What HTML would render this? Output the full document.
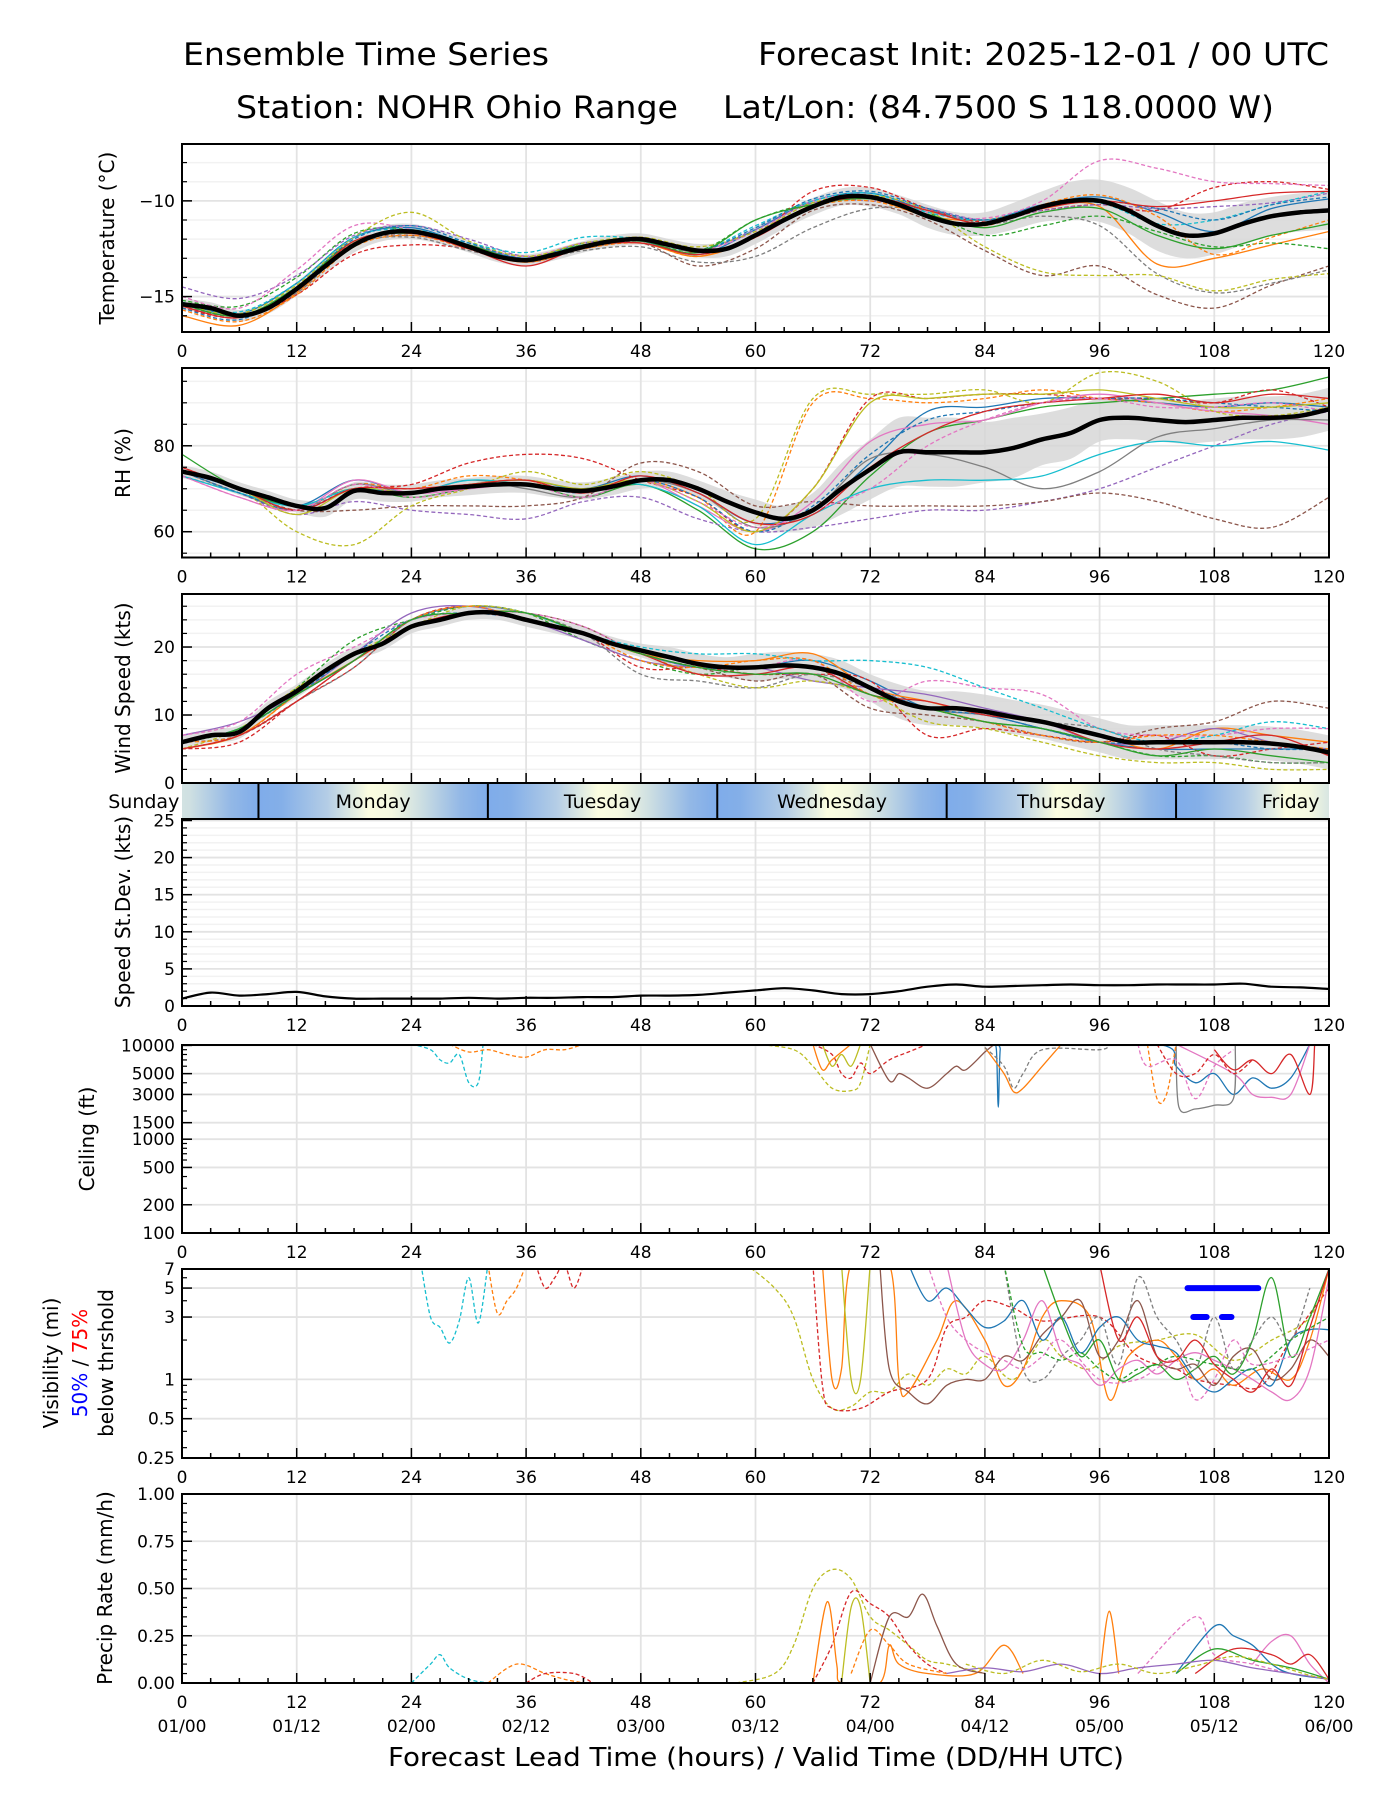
<!DOCTYPE html>
<html><head><meta charset="utf-8"><title>Ensemble Time Series</title>
<style>html,body{margin:0;padding:0;background:#fff}svg{display:block;font-family:"DejaVu Sans","Liberation Sans",sans-serif}</style>
</head><body>
<svg id="chart" width="1400" height="1800" viewBox="0 0 1400 1800" xmlns="http://www.w3.org/2000/svg">
<defs>
<linearGradient id="dayFull" x1="0" y1="0" x2="1" y2="0">
<stop offset="0" stop-color="#7facea"/><stop offset="0.1" stop-color="#84afe8"/><stop offset="0.3" stop-color="#b4cde6"/><stop offset="0.48" stop-color="#fbfde0"/><stop offset="0.58" stop-color="#f4f8e0"/><stop offset="0.7" stop-color="#cfe0e2"/><stop offset="0.88" stop-color="#93b8e6"/><stop offset="1" stop-color="#7facea"/>
</linearGradient>
<linearGradient id="dayTail" x1="0" y1="0" x2="1" y2="0">
<stop offset="0" stop-color="#d2e2e2"/><stop offset="0.1" stop-color="#cfe0e2"/><stop offset="0.64" stop-color="#93b8e6"/><stop offset="1" stop-color="#7facea"/>
</linearGradient>
<linearGradient id="dayHead" x1="0" y1="0" x2="1" y2="0">
<stop offset="0" stop-color="#7facea"/><stop offset="0.15" stop-color="#84afe8"/><stop offset="0.45" stop-color="#b4cde6"/><stop offset="0.72" stop-color="#fbfde0"/><stop offset="0.87" stop-color="#f4f8e0"/><stop offset="1" stop-color="#d8e6e2"/>
</linearGradient>
</defs>
<text x="183" y="65" font-size="31" textLength="366" lengthAdjust="spacingAndGlyphs">Ensemble Time Series</text>
<text x="758" y="65" font-size="31" textLength="571" lengthAdjust="spacingAndGlyphs">Forecast Init: 2025-12-01 / 00 UTC</text>
<text x="236" y="118" font-size="31" textLength="442" lengthAdjust="spacingAndGlyphs">Station: NOHR Ohio Range</text>
<text x="723" y="118" font-size="31" textLength="551" lengthAdjust="spacingAndGlyphs">Lat/Lon: (84.7500 S 118.0000 W)</text>
<text x="756" y="1766" font-size="26" text-anchor="middle" textLength="736" lengthAdjust="spacingAndGlyphs">Forecast Lead Time (hours) / Valid Time (DD/HH UTC)</text>
<g id="layer"></g>
</svg>
<script>
// ---------- DATA ----------
const hours3 = [0,3,6,9,12,15,18,21,24,27,30,33,36,39,42,45,48,51,54,57,60,63,66,69,72,75,78,81,84,87,90,93,96,99,102,105,108,111,114,117,120];
const hours6 = [0,6,12,18,24,30,36,42,48,54,60,66,72,78,84,90,96,102,108,114,120];
const xTickHours = [0,12,24,36,48,60,72,84,96,108,120];
const dateLabels = ["01/00","01/12","02/00","02/12","03/00","03/12","04/00","04/12","05/00","05/12","06/00"];
const dayNames = ["Sunday","Monday","Tuesday","Wednesday","Thursday","Friday"];
const dayNoonHours = [-4,20,44,68,92,116];
const dayBoundaryHours = [8,32,56,80,104];

const tempMean = [-15.4,-15.6,-16.0,-15.6,-14.6,-13.4,-12.3,-11.7,-11.6,-11.9,-12.4,-12.9,-13.1,-12.8,-12.4,-12.1,-12.0,-12.3,-12.6,-12.5,-11.8,-11.0,-10.3,-9.8,-9.8,-10.2,-10.8,-11.2,-11.2,-10.8,-10.3,-10.0,-10.0,-10.5,-11.3,-11.8,-11.7,-11.2,-10.8,-10.6,-10.5];
const tempSpread = [0.3,0.3,0.3,0.3,0.35,0.4,0.4,0.4,0.4,0.35,0.3,0.3,0.3,0.3,0.3,0.3,0.3,0.3,0.35,0.4,0.45,0.45,0.45,0.45,0.5,0.5,0.6,0.6,0.6,0.7,0.8,1.0,1.1,1.2,1.3,1.2,1.1,1.1,1.0,1.0,1.0];
const tempM1 = [-15.3,-15.9,-14.3,-11.9,-11.4,-12.3,-13.0,-12.2,-12.1,-12.8,-11.5,-10.0,-9.6,-10.5,-11.0,-10.2,-9.8,-10.6,-11.6,-10.4,-9.9];
const tempM2 = [-16.0,-16.5,-14.8,-12.2,-11.6,-12.5,-13.2,-12.4,-12.2,-12.9,-11.9,-10.2,-9.9,-10.8,-11.0,-10.4,-10.3,-13.3,-13.0,-12.3,-11.6];
const tempM3 = [-15.2,-15.5,-14.0,-11.7,-11.5,-12.3,-12.9,-12.3,-12.1,-12.6,-11.0,-10.1,-9.8,-10.6,-11.8,-11.3,-10.8,-11.6,-12.4,-12.2,-12.5];
const tempM4 = [-15.6,-16.1,-14.9,-12.8,-12.3,-12.5,-13.1,-12.4,-11.9,-12.7,-11.9,-9.5,-9.3,-10.4,-11.1,-10.5,-10.2,-10.5,-9.3,-9.0,-9.4];
const tempM5 = [-14.5,-15.1,-13.9,-11.8,-11.3,-12.0,-12.9,-12.5,-12.0,-12.6,-11.5,-10.1,-10.0,-10.4,-11.0,-10.5,-10.2,-10.4,-10.3,-10.1,-9.6];
const tempM6 = [-15.5,-16.0,-14.6,-12.2,-11.8,-12.4,-13.2,-12.5,-12.2,-13.4,-12.5,-10.5,-10.2,-11.0,-12.6,-13.9,-13.4,-14.9,-15.6,-14.4,-13.4];
const tempM7 = [-15.0,-15.6,-13.6,-11.3,-11.5,-12.3,-12.9,-12.2,-12.1,-12.6,-11.6,-10.0,-9.7,-10.6,-10.9,-10.0,-7.9,-8.3,-9.0,-9.1,-9.2];
const tempM8 = [-15.5,-16.0,-14.8,-12.3,-11.9,-12.6,-13.1,-12.6,-12.4,-13.2,-12.9,-11.4,-10.4,-10.5,-11.2,-10.8,-11.3,-13.8,-14.8,-14.3,-13.6];
const tempM9 = [-15.4,-15.9,-14.4,-11.9,-10.6,-12.1,-12.9,-12.2,-11.9,-12.4,-11.6,-10.1,-9.7,-10.5,-12.4,-13.7,-13.9,-13.9,-14.7,-14.1,-13.8];
const tempM10 = [-15.3,-15.8,-14.3,-11.9,-11.5,-12.2,-12.7,-11.9,-12.0,-12.6,-11.3,-10.0,-9.6,-10.6,-11.0,-10.3,-10.1,-11.2,-11.0,-10.2,-9.5];
const tempM11 = [-15.6,-16.2,-14.5,-12.0,-11.3,-12.2,-13.0,-12.3,-12.0,-12.6,-11.4,-9.9,-9.5,-10.4,-11.0,-10.3,-10.0,-10.4,-11.0,-10.2,-9.8];
const tempM12 = [-15.7,-16.3,-14.9,-12.4,-11.8,-12.5,-13.2,-12.5,-12.2,-12.9,-11.8,-10.3,-10.0,-10.8,-11.3,-10.2,-9.7,-10.8,-12.8,-11.9,-11.0];
const tempM13 = [-15.4,-16.0,-14.5,-12.1,-11.7,-12.3,-13.1,-12.3,-12.1,-12.7,-11.0,-10.2,-9.9,-10.7,-11.4,-10.6,-10.4,-11.8,-12.5,-11.8,-11.2];
const tempM14 = [-15.5,-16.1,-14.7,-12.1,-11.7,-12.5,-13.4,-12.4,-12.2,-12.8,-11.9,-10.3,-9.8,-10.5,-11.2,-10.4,-10.0,-10.3,-10.0,-9.6,-9.5];

const rhMean = [74,72.5,70,68,66,65.5,69.5,69,69,70,70.5,71,71,70,69.5,70.5,72,72,70,67,64.5,63,65,70,74.5,78.5,78.5,78.5,78.5,79.5,81.5,83,86,86.5,86,85.5,86,86.5,86.5,87,88.5];
const rhSpread = [1.5,1.5,1.5,1.5,1.5,2,2,2,2,2,2,2,2,2,2,2,2,2,2,2.5,3,3,4,6,7,8,8,8,7,7,6,6,5,5,5,5,5,5,5,5,5];
const rhM1 = [74,70,66,72,69,71,72,70,73,69,62,65,76,88,89,91,91,90,89,90,89];
const rhM2 = [74,69,65,71,70,73,72,69,72,68,60,90,91,90,91,93,91,90,88,89,91];
const rhM3 = [78,70,66,70,68,70,71,68,71,65,56,60,73,83,86,89,90,91,92,93,96];
const rhM4 = [75,70,65,70,71,76,78,77,72,68,60,70,91,91,92,92,91,91,90,93,89];
const rhM5 = [74,69,64,67,65,64,63,67,68,63,60,61,63,65,65,67,70,75,80,85,88];
const rhM6 = [73,69,65,65,66,66,66,68,76,74,66,67,66,66,66,67,69,67,63,61,68];
const rhM7 = [73,68,65,72,69,70,71,69,72,66,60,67,81,85,86,90,92,90,88,87,85];
const rhM8 = [74,69,65,71,69,72,70,68,72,69,61,65,77,78,75,70,74,82,84,86,86];
const rhM9 = [74,70,60,57,66,70,74,71,74,70,63,91,92,92,93,90,97,95,88,87,89];
const rhM10 = [73,69,66,70,69,72,71,70,71,66,57,64,70,72,72,73,78,81,80,81,79];
const rhM11 = [74,69,65,70,69,71,71,69,72,68,60,66,78,86,88,90,91,91,90,89,88];
const rhM12 = [74,70,64,70,69,71,72,70,72,67,60,70,90,91,92,92,93,91,89,89,90];
const rhM13 = [75,70,65,70,70,71,72,69,73,69,62,64,75,83,88,90,91,92,90,92,91];
const rhM14 = [73,68,65,71,68,70,71,68,72,67,61,65,70,80,86,90,91,89,89,90,88];

const windMean = [6,7,7.5,11,13.5,16.5,19,20.5,23,24,25,25,24,23,22,20.5,19.5,18.5,17.5,17,17,17.3,17,16,14,12,11,11,10.5,9.7,9,8,7,6,6,6,6,6,5.8,5.3,4.5];
const windSpread = [1,1,1,1,1,1,1,1,1,1,1,1,1,1,1,1,1,1.5,1.5,1.5,2,2,2,2,2,2.5,2.5,2.5,2.5,2.5,2.5,2.5,2.5,2.5,2.5,2.5,2.5,2.5,2.5,2.5,2.5];
const windM1 = [6,8,13,18,24,26,25,22,19,17,17,18,15,11,10,8,6,5,5,5,5];
const windM2 = [5,7,13,18,23,25,25,22,19,18,18,19,14,12,10,9,7,5,8,7,6];
const windM3 = [6,8,14,21,24,26,25,21,18,16,17,17,13,11,9,8,6,4,4,3,3];
const windM4 = [5,6,12,17,24,26,24,22,17,17,16,16,15,7,8,7,6,7,4,5,6];
const windM5 = [7,9,13,19,25,26,24,21,18,17,17,15,14,13,11,9,6,6,8,6,5];
const windM6 = [6,7,12,18,23,25,25,23,19,17,15,16,11,10,9,7,6,8,9,12,11];
const windM7 = [7,9,16,20,24,25,25,23,19,17,17,18,12,15,14,13,8,7,7,8,8];
const windM8 = [5,7,12,17,24,26,25,22,16,15,14,16,14,11,10,9,8,5,4,3,3];
const windM9 = [5,8,14,19,23,26,25,22,19,16,14,15,13,9,8,6,4,3,3,2,2];
const windM10 = [6,8,13,18,24,25,25,22,20,19,19,18,18,17,14,11,8,6,7,9,8];
const windM11 = [6,8,13,19,24,25,24,22,19,17,17,17,14,11,10,8,6,6,6,5,5];
const windM12 = [6,7,13,18,24,26,24,22,18,17,18,18,13,11,9,7,6,7,7,6,5];
const windM13 = [5,7,12,18,23,25,24,22,19,16,16,17,13,12,10,9,6,5,6,7,4];
const windM14 = [6,8,13,18,24,25,25,22,19,17,16,16,13,11,9,8,6,4,5,4,3];

const stdDev = [1.0,1.8,1.4,1.6,1.9,1.3,1.0,1.0,1.0,1.0,1.1,1.0,1.1,1.1,1.2,1.2,1.4,1.4,1.5,1.8,2.1,2.4,2.1,1.6,1.6,2.0,2.6,2.9,2.6,2.7,2.8,2.9,2.8,2.8,2.9,2.9,2.9,3.0,2.6,2.5,2.3];

// ceiling members: hour / value pairs (ft)
const ceilH1 = [24,26,27,28,29,30,31,31.5]; const ceilV1 = [10500,9000,7000,6500,8000,4000,4000,10500];
const ceilH2 = [28,30,32,34,36,38,40,42]; const ceilV2 = [10500,8500,9000,8000,7500,9000,9000,10500];
const ceilH3 = [60,64,66,68,70,71,72]; const ceilV3 = [10500,9000,6000,3500,3300,4000,10500];
const ceilH4 = [66,68,69,70,71,72,74,76,78]; const ceilV4 = [10500,8000,5000,4500,6500,5000,7000,8500,10500];
const ceilH5 = [67,68,69,70,71]; const ceilV5 = [10500,6000,8000,6000,10500];
const ceilH6 = [66,67,68,70]; const ceilV6 = [10500,5500,7000,10500];
const ceilH7 = [72,74,75,76,78,80,81,82,84,85]; const ceilV7 = [10500,4200,5000,4500,3500,5000,6000,5500,8500,10500];
const ceilH8 = [84.8,85.2,85.4,85.6,86,102,104,106,108,110,112,114,116,118]; const ceilV8 = [10500,9000,2200,9000,10500,10500,6000,4000,5000,3000,4500,3500,4500,10500];
const ceilH9 = [84,86,87,88,90,92]; const ceilV9 = [9500,5000,3200,3500,6000,10500];
const ceilH10 = [84,86,87,88,90,96,97]; const ceilV10 = [9500,6000,3500,5000,9000,9000,10500];
const ceilH11 = [104,110,112,114,116,118]; const ceilV11 = [10500,5000,3000,2800,3000,10500];
const ceilH12 = [104,104.3,106,108,110,110.2]; const ceilV12 = [10500,2200,2100,2300,2700,10500];
const ceilH13 = [101,102,103,104]; const ceilV13 = [10500,2700,3000,10500];
const ceilH14 = [108,110,112,114,116,118,118.5]; const ceilV14 = [9000,5500,7000,5000,8000,3000,10500];
const ceilH15 = [100,101,104,106,108,110]; const ceilV15 = [10500,6000,7000,2700,6000,9000];
const ceilH16 = [102,104,106,108,110,112]; const ceilV16 = [10500,5000,5000,8000,5000,7000];

// visibility members: hour / value pairs (mi)
const visH1 = [25,26,27,28,29,30,31,32]; const visV1 = [8,3,2.5,1.9,2.8,6,2.7,8];
const visH2 = [32,33,34,35,36]; const visV2 = [8,3.2,4,5,8];
const visH3 = [37,38,39,40,41,42]; const visV3 = [8,5,6,8,5,8];
const visH4 = [59,62,64,66,68,70,72,74,76,78,80,82,84,87,90,92,95,98,102,106,110,114,118,120]; const visV4 = [8,5,3,1,0.6,0.62,0.8,0.8,1.1,0.9,1.2,1.1,1.5,1.0,2,1.5,1.2,1.8,2,2.2,1.4,2,3,7];
const visH5 = [66,67,68,71,74,78,80,82,84,87,90,96,100,104,106,110,113,116,120]; const visV5 = [8,0.9,0.6,0.6,0.8,1,2.5,3,4,3.5,2.8,3,1.5,1.2,1,0.9,0.9,2,5];
const visH6 = [67,68,69,70,74,75,76,79,81,84,86,88,90,92,95,97,99,102,104,106,108,110,113,116,118,120]; const visV6 = [8,1,1.2,8,8,1,0.8,2,4,2,0.9,1.2,3,4,3,0.7,1.5,2,1.5,1,1.2,0.9,1.2,1,2,7];
const visH7 = [69,70,71,72]; const visV7 = [8,1,1,8];
const visH8 = [73,74,76,78,80,82,84,86,88,90,92,94,96,98,100,102,104,106,108,110,112,114,116,118,120]; const visV8 = [8,1.2,0.8,0.65,0.9,1,1,1.5,1.4,2.2,3,4,1.5,2,4,1.5,1.2,1.3,0.9,1.5,1.7,1.0,1.2,2,1.5];
const visH9 = [76,78,80,82,84,86,88,90,92,94,96,98,100,102,104,106,108,110,112,114,116,118,120]; const visV9 = [8,4,5,3.5,2.5,2.8,4,2,3,1.6,2.5,3,2,1.8,1.6,1.0,0.8,1,1.2,0.9,2,2.4,2.4];
const visH10 = [80,82,84,86,88,90,92,94,96,98,100,102,104,106,108,110,112,114,116,118,120]; const visV10 = [8,2,1.3,1.2,2,4,1.6,1.3,0.9,1.2,1.4,1.1,1.4,1.6,1.4,1.2,1,0.8,0.7,1.2,6];
const visH11 = [90,92,94,96,98,100,102,104,106,108,110,112,114,116,118,120]; const visV11 = [8,3,1.5,2,1,1.1,1.3,1.0,1.2,1.5,1.1,2,6,1.5,3,7];
const visH12 = [86,88,90,92,94,96,98,100,102,104,106,108,110,112,114,116,118]; const visV12 = [8,1.2,1,1.5,2,3,1.3,6,3,2,1.2,3,1.2,2,3,2,5];
const visH13 = [78,80,82,84,86,88,90,92,96,100,104,106,108,110,112,116,120]; const visV13 = [8,3,2,1.6,1.4,1.2,1.5,2,1,1,1.4,0.7,1,2,1.3,1.5,2];
const visH14 = [86,88,90,92,94,96,98,100,102,104,108,112,116,120]; const visV14 = [8,1.8,1.6,1.4,1.6,1.2,1,1.2,1.3,1.5,1.3,1.2,2,3];
const visH15 = [96,98,100,102,104,106,108,110,112,114,116,118,120]; const visV15 = [8,2,3,1.5,1.4,2,1.3,1,0.8,1.2,0.9,2.5,7];
const vis50Start = [105.2]; const vis50End = [112.6]; const vis50Value = [5];
const vis75Start = [105.8,108.8]; const vis75End = [107.2,109.8]; const vis75Value = [3,3];

// precip members: hour / value pairs (mm/h)
const prH1 = [58,62,64,66,68,70,72,74,76,78,80,84]; const prV1 = [0,0.05,0.2,0.5,0.6,0.55,0.35,0.28,0.2,0.12,0.1,0.05];
const prH2 = [66,68,70,72,74,76,78,80]; const prV2 = [0,0.2,0.48,0.42,0.35,0.2,0.1,0.05];
const prH3 = [66,67.5,68.5,69,73,74,75,78,83,86,88]; const prV3 = [0,0.43,0.1,0,0,0.2,0.1,0.05,0.05,0.2,0.05];
const prH4 = [69,70,71,72]; const prV4 = [0,0.4,0.4,0];
const prH5 = [72,74,76,77.5,79,81,84]; const prV5 = [0,0.35,0.35,0.47,0.3,0.1,0.05];
const prH6 = [70,72,74,76,80]; const prV6 = [0.05,0.28,0.2,0.1,0.05];
const prH7 = [100,106,108,112,116,120]; const prV7 = [0.05,0.35,0.15,0.1,0.05,0.02];
const prH8 = [104,108,110,112,114,116,120]; const prV8 = [0.05,0.3,0.25,0.2,0.1,0.05,0.02];
const prH9 = [96,97,98]; const prV9 = [0.02,0.38,0.05];
const prH10 = [112,114,116,118,120]; const prV10 = [0.1,0.22,0.25,0.1,0];
const prH11 = [106,110,114,116,118,120]; const prV11 = [0.05,0.18,0.15,0.1,0.15,0.02];
const prH12 = [104,108,112,116,120]; const prV12 = [0.05,0.18,0.12,0.08,0.02];
const prH13 = [24,26,27,28,30,32]; const prV13 = [0,0.1,0.15,0.08,0.02,0];
const prH14 = [32,35,38,40,42]; const prV14 = [0,0.1,0.05,0.02,0];
const prH15 = [36,38,41,43]; const prV15 = [0,0.05,0.05,0];
const prH16 = [80,84,88,92,96,100,104,108,112,116,120]; const prV16 = [0.05,0.08,0.06,0.1,0.05,0.08,0.1,0.12,0.08,0.05,0.02];
const prH17 = [82,86,90,94,98,102,106,110,114,118,120]; const prV17 = [0.1,0.05,0.12,0.06,0.1,0.05,0.09,0.14,0.1,0.04,0.02];

// ---------- DRAWING ----------
const NS = "http://www.w3.org/2000/svg";
const layer = document.getElementById("layer");
const X0 = 182, X1 = 1329;
const tab = ["#1f77b4","#ff7f0e","#2ca02c","#d62728","#9467bd","#8c564b","#e377c2","#7f7f7f","#bcbd22","#17becf"];
function xs(h){ return X0 + h*(X1-X0)/120; }
function mk(tag, attrs, parent){ const e=document.createElementNS(NS,tag); for(const k in attrs) e.setAttribute(k,attrs[k]); (parent||layer).appendChild(e); return e; }
function smoothPath(pts){
  if(pts.length<2) return "";
  let d="M"+pts[0][0].toFixed(1)+","+pts[0][1].toFixed(1);
  for(let i=0;i<pts.length-1;i++){
    const p0=pts[Math.max(0,i-1)],p1=pts[i],p2=pts[i+1],p3=pts[Math.min(pts.length-1,i+2)];
    const c1x=p1[0]+(p2[0]-p0[0])/6,c1y=p1[1]+(p2[1]-p0[1])/6,c2x=p2[0]-(p3[0]-p1[0])/6,c2y=p2[1]-(p3[1]-p1[1])/6;
    d+="C"+c1x.toFixed(1)+","+c1y.toFixed(1)+" "+c2x.toFixed(1)+","+c2y.toFixed(1)+" "+p2[0].toFixed(1)+","+p2[1].toFixed(1);
  }
  return d;
}
function linY(p){ return v => p.bot - (v-p.min)/(p.max-p.min)*(p.bot-p.top); }
function logY(p){ return v => p.bot - (Math.log10(v)-Math.log10(p.min))/(Math.log10(p.max)-Math.log10(p.min))*(p.bot-p.top); }

const panels = {
  temp:{top:144,bot:332,min:-16.85,max:-7.03,ticks:[-15,-10],labels:["\u221215","\u221210"],minor:[-16,-14,-13,-12,-11,-9,-8],minorGrid:true,log:false},
  rh:{top:368,bot:557.5,min:54,max:98.1,ticks:[60,80],labels:["60","80"],minor:[55,65,70,75,85,90,95],minorGrid:true,log:false},
  wind:{top:594,bot:783,min:0,max:27.8,ticks:[0,10,20],labels:["0","10","20"],minor:[2,4,6,8,12,14,16,18,22,24,26],minorGrid:true,log:false},
  std:{top:819,bot:1006,min:0,max:25.2,ticks:[0,5,10,15,20,25],labels:["0","5","10","15","20","25"],minor:[1,2,3,4,6,7,8,9,11,12,13,14,16,17,18,19,21,22,23,24],minorGrid:true,log:false},
  ceil:{top:1045,bot:1233,min:100,max:10100,ticks:[100,200,500,1000,1500,3000,5000,10000],labels:["100","200","500","1000","1500","3000","5000","10000"],minor:[300,400,600,700,800,900,2000,4000,6000,7000,8000,9000],minorGrid:false,log:true},
  vis:{top:1269,bot:1458,min:0.25,max:7,ticks:[0.25,0.5,1,3,5,7],labels:["0.25","0.5","1","3","5","7"],minor:[0.3,0.4,0.6,0.7,0.8,0.9,2,4,6],minorGrid:false,log:true},
  pr:{top:1494,bot:1683,min:0,max:1,ticks:[0,0.25,0.5,0.75,1],labels:["0.00","0.25","0.50","0.75","1.00"],minor:[0.05,0.1,0.15,0.2,0.3,0.35,0.4,0.45,0.55,0.6,0.65,0.7,0.8,0.85,0.9,0.95],minorGrid:false,log:false}
};
for(const k in panels){ const p=panels[k]; p.y = p.log?logY(p):linY(p); }

function drawFrame(key, name){
  const p=panels[key];
  const g=mk("g",{});
  
  
  const cp=mk("clipPath",{id:"clip-"+key},g);
  mk("rect",{x:X0,y:p.top,width:X1-X0,height:p.bot-p.top},cp);
  if(p.minorGrid){ p.minor.forEach(v=>{ const yy=p.y(v); const l=mk("line",{x1:X0,x2:X1,y1:yy,y2:yy,stroke:"#f2f2f2","stroke-width":1.5},g);
    
     }); }
  xTickHours.forEach(h=>{ const l=mk("line",{x1:xs(h),x2:xs(h),y1:p.top,y2:p.bot,stroke:"#e3e3e3","stroke-width":1.8},g);
    
     });
  p.ticks.forEach(v=>{ const yy=p.y(v); const l=mk("line",{x1:X0,x2:X1,y1:yy,y2:yy,stroke:"#e3e3e3","stroke-width":1.8},g);
    
     });
  const plot=mk("g",{"clip-path":"url(#clip-"+key+")"},g);
  
  
  p.plot=plot; p.g=g;
  return p;
}
function drawAxes(key, name, showNums){
  const p=panels[key], g=p.g;
  for(let h=0;h<=120;h+=3){ const major=h%12===0; const l=mk("line",{x1:xs(h),x2:xs(h),y1:p.bot,y2:p.bot-(major?10:5),stroke:"#000","stroke-width":1.5},g);
    
     }
  p.ticks.forEach((v,i)=>{ const yy=p.y(v);
    const l=mk("line",{x1:X0,x2:X0+10,y1:yy,y2:yy,stroke:"#000","stroke-width":1.5},g);
    
    
    const t=mk("text",{x:X0-7,y:yy+6,"font-size":17,"text-anchor":"end"},g); t.textContent=p.labels[i];
    
     });
  p.minor.forEach(v=>{ const yy=p.y(v); const l=mk("line",{x1:X0,x2:X0+5,y1:yy,y2:yy,stroke:"#000","stroke-width":1.2},g);
    
     });
  const r=mk("rect",{x:X0,y:p.top,width:X1-X0,height:p.bot-p.top,fill:"none",stroke:"#000","stroke-width":2},g);
  
  
  if(showNums){ xTickHours.forEach(h=>{ const t=mk("text",{x:xs(h),y:p.bot+25,"font-size":17,"text-anchor":"middle"},g); t.textContent=String(h);
    
     }); }
}
function yLabel(x, yc, text, name, color){
  const t=mk("text",{x:x,y:yc,"font-size":20,"text-anchor":"middle","dominant-baseline":"central",transform:"rotate(-90 "+x+" "+yc+")",fill:color||"#000"});
  t.textContent=text;
  
  
  return t;
}
function line(p, hs, vs, color, dashed, width, name, clipTop){
  const pts=hs.map((h,i)=>[xs(h), p.y(clipTop!==undefined?Math.min(vs[i],clipTop):vs[i])]);
  const a={d:smoothPath(pts),fill:"none",stroke:color,"stroke-width":width||1.3,"stroke-linejoin":"round"};
  if(dashed) a["stroke-dasharray"]="4,2.5";
  const e=mk("path",a,p.plot);
  
  
  return e;
}
function band(p, mean, spread, name){
  const up=hours3.map((h,i)=>[xs(h),p.y(mean[i]+spread[i])]);
  const dn=hours3.map((h,i)=>[xs(h),p.y(mean[i]-spread[i])]).reverse();
  let d=smoothPath(up)+"L"+smoothPath(dn).slice(1)+"Z";
  const e=mk("path",{d:d,fill:"#d4d4d4","fill-opacity":0.8,stroke:"none"},p.plot);
  
  
}
const extraColors = [0,1,2,3];
const extraDash = [true,true,false,false];

// Temperature
let P=drawFrame("temp","temperature");
band(P,tempMean,tempSpread,"temperature-spread-band");
[tempM1,tempM2,tempM3,tempM4,tempM5,tempM6,tempM7,tempM8,tempM9,tempM10].forEach((m,i)=>line(P,hours6,m,tab[i],i>=2,1.3,"temperature-member-"+(i+1)));
[tempM11,tempM12,tempM13,tempM14].forEach((m,i)=>line(P,hours6,m,tab[extraColors[i]],extraDash[i],1.3,"temperature-member-"+(i+11)));
line(P,hours3,tempMean,"#000",false,4.5,"temperature-ensemble-mean");
drawAxes("temp","temperature",true);
yLabel(107,238,"Temperature (\u00b0C)","temperature-y-axis-title");

// RH
P=drawFrame("rh","rh");
band(P,rhMean,rhSpread,"rh-spread-band");
[rhM1,rhM2,rhM3,rhM4,rhM5,rhM6,rhM7,rhM8,rhM9,rhM10].forEach((m,i)=>line(P,hours6,m,tab[i],[1,3,4,5,8].includes(i),1.3,"rh-member-"+(i+1)));
[rhM11,rhM12,rhM13,rhM14].forEach((m,i)=>line(P,hours6,m,tab[[0,8,3,6][i]],[true,false,false,true][i],1.3,"rh-member-"+(i+11)));
line(P,hours3,rhMean,"#000",false,4.5,"rh-ensemble-mean");
drawAxes("rh","rh",true);
yLabel(123,463,"RH (%)","rh-y-axis-title");

// Wind
P=drawFrame("wind","wind-speed");
band(P,windMean,windSpread,"wind-spread-band");
[windM1,windM2,windM3,windM4,windM5,windM6,windM7,windM8,windM9,windM10].forEach((m,i)=>line(P,hours6,m,tab[i],[2,3,5,6,7,8,9].includes(i),1.3,"wind-member-"+(i+1)));
[windM11,windM12,windM13,windM14].forEach((m,i)=>line(P,hours6,m,tab[[0,1,3,2][i]],[true,true,false,false][i],1.3,"wind-member-"+(i+11)));
line(P,hours3,windMean,"#000",false,4.5,"wind-ensemble-mean");
drawAxes("wind","wind-speed",false);
yLabel(123,688,"Wind Speed (kts)","wind-y-axis-title");

// Day bar
{
  const g=mk("g",{});
  
  
  const edges=[0].concat(dayBoundaryHours,[120]);
  for(let i=0;i<edges.length-1;i++){
    const fill = i===0 ? "url(#dayTail)" : (i===edges.length-2 ? "url(#dayHead)" : "url(#dayFull)");
    const r=mk("rect",{x:xs(edges[i]),y:784,width:xs(edges[i+1])-xs(edges[i]),height:34,fill:fill},g);
    
    
  }
  dayBoundaryHours.forEach(h=>{ const l=mk("line",{x1:xs(h),x2:xs(h),y1:784,y2:818,stroke:"#000","stroke-width":2},g);
    
     });
  dayNames.forEach((n,i)=>{ const t=mk("text",{x:xs(dayNoonHours[i]),y:808,"font-size":19,"text-anchor":"middle"},g); t.textContent=n;
    
     });
}

// Std dev
P=drawFrame("std","speed-stdev");
line(P,hours3,stdDev,"#000",false,2.2,"speed-stdev-line");
drawAxes("std","speed-stdev",true);
yLabel(123,912,"Speed St.Dev. (kts)","stdev-y-axis-title");

// Ceiling
P=drawFrame("ceil","ceiling");
const ceilSets=[[ceilH1,ceilV1,9,1],[ceilH2,ceilV2,1,1],[ceilH3,ceilV3,8,1],[ceilH4,ceilV4,3,1],[ceilH5,ceilV5,8,0],[ceilH6,ceilV6,1,0],[ceilH7,ceilV7,5,0],[ceilH8,ceilV8,0,0],[ceilH9,ceilV9,1,0],[ceilH10,ceilV10,7,1],[ceilH11,ceilV11,6,0],[ceilH12,ceilV12,7,0],[ceilH13,ceilV13,1,1],[ceilH14,ceilV14,3,0],[ceilH15,ceilV15,6,1],[ceilH16,ceilV16,3,1]];
ceilSets.forEach((s,i)=>line(P,s[0],s[1],tab[s[2]],!!s[3],1.3,"ceiling-member-"+(i+1),10300));
drawAxes("ceil","ceiling",true);
yLabel(87,1139,"Ceiling (ft)","ceiling-y-axis-title");

// Visibility
P=drawFrame("vis","visibility");
const visSets=[[visH1,visV1,9,1],[visH2,visV2,1,1],[visH3,visV3,3,1],[visH4,visV4,8,1],[visH5,visV5,3,1],[visH6,visV6,1,0],[visH7,visV7,8,0],[visH8,visV8,5,0],[visH9,visV9,0,0],[visH10,visV10,6,0],[visH11,visV11,2,0],[visH12,visV12,7,1],[visH13,visV13,6,1],[visH14,visV14,2,1],[visH15,visV15,3,0]];
visSets.forEach((s,i)=>line(P,s[0],s[1],tab[s[2]],!!s[3],1.3,"visibility-member-"+(i+1),7.6));
vis50Start.forEach((h,i)=>{ const yy=P.y(vis50Value[i]); const l=mk("line",{x1:xs(h),x2:xs(vis50End[i]),y1:yy,y2:yy,stroke:"#0000ff","stroke-width":6,"stroke-linecap":"round"},P.plot);
  
   });
vis75Start.forEach((h,i)=>{ const yy=P.y(vis75Value[i]); const l=mk("line",{x1:xs(h),x2:xs(vis75End[i]),y1:yy,y2:yy,stroke:"#0000ff","stroke-width":6,"stroke-linecap":"round"},P.plot);
  
   });
drawAxes("vis","visibility",true);
yLabel(51,1363,"Visibility (mi)","visibility-y-axis-title");
{
  const x=80, yc=1363;
  const t=mk("text",{x:x,y:yc,"font-size":20,"text-anchor":"middle","dominant-baseline":"central",transform:"rotate(-90 "+x+" "+yc+")"});
  
  
  const a=mk("tspan",{fill:"#0000ff"},t); a.textContent="50%";
  const b=mk("tspan",{fill:"#000"},t); b.textContent=" / ";
  const c=mk("tspan",{fill:"#ff0000"},t); c.textContent="75%";
}
yLabel(106,1363,"below thrshold","visibility-threshold-caption");

// Precip
P=drawFrame("pr","precip");
const prSets=[[prH1,prV1,8,1],[prH2,prV2,3,1],[prH3,prV3,1,0],[prH4,prV4,8,0],[prH5,prV5,5,0],[prH6,prV6,1,1],[prH7,prV7,6,1],[prH8,prV8,0,0],[prH9,prV9,1,0],[prH10,prV10,6,0],[prH11,prV11,3,0],[prH12,prV12,2,0],[prH13,prV13,9,1],[prH14,prV14,1,1],[prH15,prV15,3,1],[prH16,prV16,4,0],[prH17,prV17,8,1]];
prSets.forEach((s,i)=>line(P,s[0],s[1],tab[s[2]],!!s[3],1.3,"precip-member-"+(i+1)));
drawAxes("pr","precip",true);
yLabel(105,1588,"Precip Rate (mm/h)","precip-y-axis-title");
dateLabels.forEach((d,i)=>{ const t=mk("text",{x:xs(xTickHours[i]),y:1732,"font-size":17,"text-anchor":"middle"}); t.textContent=d;
  
   });
</script>
</body></html>
